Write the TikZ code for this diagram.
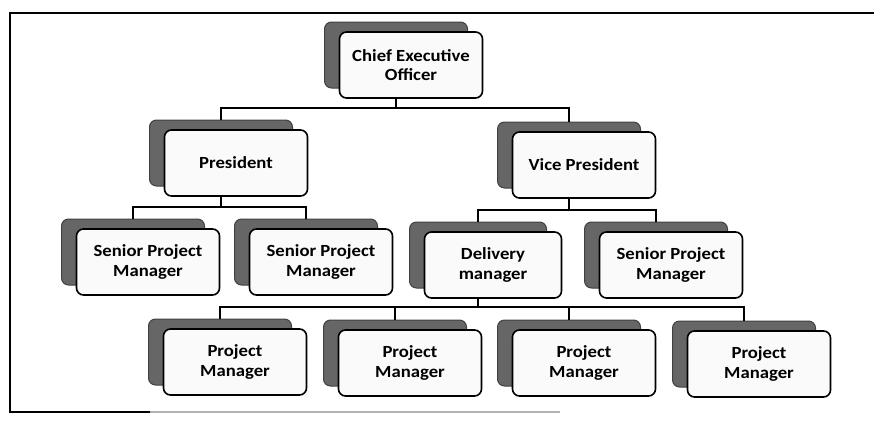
\documentclass[tikz,border=0pt]{standalone}
\usepackage{fontspec}
\setmainfont{Carlito}[FakeStretch=1.1]
\begin{document}
\begin{tikzpicture}[x=1pt,y=-1pt,
  front/.style={draw=black, line width=1.6pt, rounded corners=7pt, fill=black!2,
    minimum width=143pt, minimum height=66pt, inner sep=0pt, align=center,
    font=\bfseries\fontsize{17}{19.5}\selectfont},
  back/.style={draw=black!75, line width=1pt, rounded corners=7pt, fill=black!60,
    minimum width=143pt, minimum height=66pt, inner sep=0pt},
  conn/.style={draw=black, line width=1.6pt, line cap=rect},
  frameline/.style={line width=1.8pt, line cap=rect}
]
\useasboundingbox (0,0) rectangle (874,423);

% frame
\draw[frameline] (874,13) -- (10,13) -- (10,412) -- (150,412);
\draw[line width=1.2pt, black!30] (150,412) -- (560,412);

% bus levels
\coordinate (busA) at (0,108);
\coordinate (busB) at (0,207);
\coordinate (busC) at (0,210);
\coordinate (busD) at (0,307);

% level 0
\node[back] (ceo-s) at (396,55) {};
\node[front] (ceo) at (411,65) {Chief Executive\\Officer};

% level 1
\node[back] (pres-s) at (221,153) {};
\node[front] (pres) at (236,163) {President};
\node[back] (vp-s) at (569,155) {};
\node[front] (vp) at (584,165) {Vice President};

% level 2
\node[back] (spm1-s) at (133,252) {};
\node[front] (spm1) at (148,262) {Senior Project\\Manager};
\node[back] (spm2-s) at (306,252) {};
\node[front] (spm2) at (321,262) {Senior Project\\Manager};
\node[back, minimum width=137pt] (dm-s) at (478,255) {};
\node[front, minimum width=137pt] (dm) at (493,265) {Delivery\\manager};
\node[back] (spm3-s) at (656,255) {};
\node[front] (spm3) at (671,265) {Senior Project\\Manager};

% level 3
\node[back] (pm1-s) at (220,352) {};
\node[front] (pm1) at (235,362) {Project\\Manager};
\node[back] (pm2-s) at (395,353) {};
\node[front] (pm2) at (410,363) {Project\\Manager};
\node[back] (pm3-s) at (569,353) {};
\node[front] (pm3) at (584,363) {Project\\Manager};
\node[back] (pm4-s) at (744,354) {};
\node[front] (pm4) at (759,364) {Project\\Manager};

% connectors
\draw[conn] (ceo-s |- ceo.south) -- (ceo-s |- busA);
\draw[conn] (pres-s.north) -- (pres-s |- busA) -- (vp-s |- busA) -- (vp-s.north);

\draw[conn] (pres-s |- pres.south) -- (pres-s |- busB);
\draw[conn] (spm1-s.north) -- (spm1-s |- busB) -- (spm2-s |- busB) -- (spm2-s.north);

\draw[conn] (vp-s |- vp.south) -- (vp-s |- busC);
\draw[conn] (dm-s.north) -- (dm-s |- busC) -- (spm3-s |- busC) -- (spm3-s.north);

\draw[conn] (dm-s |- dm.south) -- (dm-s |- busD);
\draw[conn] (pm1-s.north) -- (pm1-s |- busD) -- (pm4-s |- busD) -- (pm4-s.north);
\draw[conn] (pm2-s |- busD) -- (pm2-s.north);
\draw[conn] (pm3-s |- busD) -- (pm3-s.north);
\end{tikzpicture}
\end{document}
